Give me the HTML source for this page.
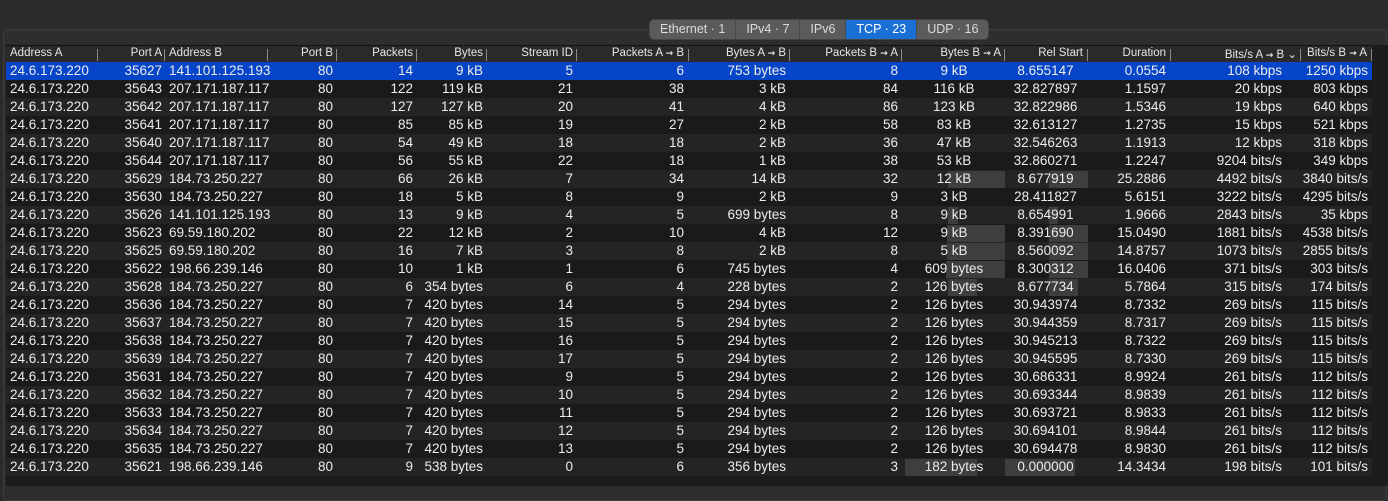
<!DOCTYPE html>
<html><head><meta charset="utf-8"><style>
body{margin:0;width:1388px;height:486px;background:#2b2b2b;overflow:hidden;font-family:"Liberation Sans",Helvetica,Arial,sans-serif;position:relative}
#frame{position:absolute;left:3px;top:29px;width:1382px;height:470px;border:1px solid #3e3e3e;border-radius:5px;background:#2e2e2e}
#tabs{position:absolute;left:649px;top:19px;height:19px;display:flex;background:#5b5b5b;border-radius:5px;overflow:hidden;font-size:12.5px;color:#dcdcdc;border:1px solid #444}
#tabs div{padding:0 10px;line-height:19px;border-right:1px solid #4a4a4a}
#tabs .on{background:#1a6fd4;color:#fff}
#table{position:absolute;left:6px;top:45px;width:1382px;height:441px;background:#1c1c1c}
#hdr{position:absolute;left:0;top:0;width:1366px;height:17px;background:#2a2a2a;border-top:1px solid #111;font-size:11.5px;color:#e6e6e6}
.h,.c{position:absolute;white-space:nowrap}
.ar{font-family:"DejaVu Sans",sans-serif;font-size:9px;font-weight:bold}
.sep{position:absolute;top:3px;width:1px;height:12px;background:#8a8a8a}
.row{position:absolute;left:0;width:1366px;height:18px;font-size:13.5px;color:#ececec;line-height:18px}
.bar{position:absolute;top:1px;height:17px;background:#3e3e3e}
</style></head><body>
<div id="frame"></div>
<div id="tabs">
<div>Ethernet · 1</div>
<div>IPv4 · 7</div>
<div>IPv6</div>
<div class="on">TCP · 23</div>
<div style="border-right:none">UDP · 16</div>
</div>
<div id="table">
<div id="hdr"></div>
</div>
<script>
const headers=["Address A","Port A","Address B","Port B","Packets","Bytes","Stream ID","Packets A → B","Bytes A → B","Packets B → A","Bytes B → A","Rel Start","Duration","Bits/s A → B ⌄","Bits/s B → A"];
const cols=[[4,91,'l'],[91,156,'r'],[163,261,'l'],[261,327,'r'],[330,407,'r'],[410,477,'r'],[480,567,'r'],[570,678,'r'],[682,780,'r'],[783,892,'r'],[898,998,'c'],[998,1081,'c'],[1081,1160,'r'],[1164,1276,'r'],[1294,1362,'r']];
const hdrRight=[null,156,null,327,407,477,567,678,780,892,995,1077,1160,1291,1361];
const seps=[91,158,261,330,410,480,570,682,783,895,998,1081,1164,1294,1365];
const addrA="24.6.173.220";
const portA=[35627,35643,35642,35641,35640,35644,35629,35630,35626,35623,35625,35622,35628,35636,35637,35638,35639,35631,35632,35633,35634,35635,35621];
const addrB=["141.101.125.193","207.171.187.117","207.171.187.117","207.171.187.117","207.171.187.117","207.171.187.117","184.73.250.227","184.73.250.227","141.101.125.193","69.59.180.202","69.59.180.202","198.66.239.146","184.73.250.227","184.73.250.227","184.73.250.227","184.73.250.227","184.73.250.227","184.73.250.227","184.73.250.227","184.73.250.227","184.73.250.227","184.73.250.227","198.66.239.146"];
const packets=[14,122,127,85,54,56,66,18,13,22,16,10,6,7,7,7,7,7,7,7,7,7,9];
const bytes=["9 kB","119 kB","127 kB","85 kB","49 kB","55 kB","26 kB","5 kB","9 kB","12 kB","7 kB","1 kB","354 bytes","420 bytes","420 bytes","420 bytes","420 bytes","420 bytes","420 bytes","420 bytes","420 bytes","420 bytes","538 bytes"];
const streamId=[5,21,20,19,18,22,7,8,4,2,3,1,6,14,15,16,17,9,10,11,12,13,0];
const pktAB=[6,38,41,27,18,18,34,9,5,10,8,6,4,5,5,5,5,5,5,5,5,5,6];
const bytesAB=["753 bytes","3 kB","4 kB","2 kB","2 kB","1 kB","14 kB","2 kB","699 bytes","4 kB","2 kB","745 bytes","228 bytes","294 bytes","294 bytes","294 bytes","294 bytes","294 bytes","294 bytes","294 bytes","294 bytes","294 bytes","356 bytes"];
const pktBA=[8,84,86,58,36,38,32,9,8,12,8,4,2,2,2,2,2,2,2,2,2,2,3];
const bytesBA=["9 kB","116 kB","123 kB","83 kB","47 kB","53 kB","12 kB","3 kB","9 kB","9 kB","5 kB","609 bytes","126 bytes","126 bytes","126 bytes","126 bytes","126 bytes","126 bytes","126 bytes","126 bytes","126 bytes","126 bytes","182 bytes"];
const relStart=["8.655147","32.827897","32.822986","32.613127","32.546263","32.860271","8.677919","28.411827","8.654991","8.391690","8.560092","8.300312","8.677734","30.943974","30.944359","30.945213","30.945595","30.686331","30.693344","30.693721","30.694101","30.694478","0.000000"];
const duration=["0.0554","1.1597","1.5346","1.2735","1.1913","1.2247","25.2886","5.6151","1.9666","15.0490","14.8757","16.0406","5.7864","8.7332","8.7317","8.7322","8.7330","8.9924","8.9839","8.9833","8.9844","8.9830","14.3434"];
const bitsAB=["108 kbps","20 kbps","19 kbps","15 kbps","12 kbps","9204 bits/s","4492 bits/s","3222 bits/s","2843 bits/s","1881 bits/s","1073 bits/s","371 bits/s","315 bits/s","269 bits/s","269 bits/s","269 bits/s","269 bits/s","261 bits/s","261 bits/s","261 bits/s","261 bits/s","261 bits/s","198 bits/s"];
const bitsBA=["1250 kbps","803 kbps","640 kbps","521 kbps","318 kbps","349 kbps","3840 bits/s","4295 bits/s","35 kbps","4538 bits/s","2855 bits/s","303 bits/s","174 bits/s","115 bits/s","115 bits/s","115 bits/s","115 bits/s","112 bits/s","112 bits/s","112 bits/s","112 bits/s","112 bits/s","101 bits/s"];
const barBytesStart=[null,null,null,null,null,null,942,null,942,941,941,940,942,null,null,null,null,null,null,null,null,null,899];
const barBytesEnd=[null,null,null,null,null,null,999,null,952,999,999,999,971,null,null,null,null,null,null,null,null,null,971];
const barRelStart=[null,null,null,null,null,null,1043,null,1043,1043,1043,1043,1043,null,null,null,null,null,null,null,null,null,999];
const barRelEnd=[null,null,null,null,null,null,1082,null,1052,1082,1082,1082,1072,null,null,null,null,null,null,null,null,null,1069];

const hdr=document.getElementById('hdr');
headers.forEach((t,i)=>{
  const d=document.createElement('div');d.className='h';
  
  
  const parts=t.split('→');
  d.appendChild(document.createTextNode(parts[0]));
  if(parts.length>1){const s=document.createElement('span');s.className='ar';s.textContent='→';d.appendChild(s);d.appendChild(document.createTextNode(parts[1]));}
  if(hdrRight[i]==null){d.style.left=cols[i][0]+'px';}else{d.style.right=(1366-hdrRight[i])+'px';}
  d.style.top='1px';hdr.appendChild(d);
});
seps.forEach(x=>{const s=document.createElement('div');s.className='sep';s.style.left=x+'px';
  
  
  hdr.appendChild(s);});
const table=document.getElementById('table');
for(let r=0;r<portA.length;r++){
  const row=document.createElement('div');row.className='row';
  
  
  row.style.top=(17+r*18)+'px';
  row.style.background=r==0?'#0645c8':(r%2?'#1a1a1a':'#242424');
  if(barBytesStart[r]!=null){
    const b=document.createElement('div');b.className='bar';
    
    
    b.style.left=barBytesStart[r]+'px';b.style.width=(barBytesEnd[r]-barBytesStart[r])+'px';row.appendChild(b);
    const b2=document.createElement('div');b2.className='bar';
    
    
    b2.style.left=barRelStart[r]+'px';b2.style.width=(barRelEnd[r]-barRelStart[r])+'px';row.appendChild(b2);
  }
  const vals=[addrA,portA[r],addrB[r],80,packets[r],bytes[r],streamId[r],pktAB[r],bytesAB[r],pktBA[r],bytesBA[r],relStart[r],duration[r],bitsAB[r],bitsBA[r]];
  vals.forEach((v,i)=>{
    const c=document.createElement('div');c.className='c';
    
    
    c.textContent=v;const [l,rt,a]=cols[i];
    if(a=='l'){c.style.left=l+'px';}
    else if(a=='r'){c.style.right=(1366-rt)+'px';}
    else{c.style.left=l+'px';c.style.width=(rt-l)+'px';c.style.textAlign='center';}
    row.appendChild(c);
  });
  table.appendChild(row);
}
</script>
</body></html>
